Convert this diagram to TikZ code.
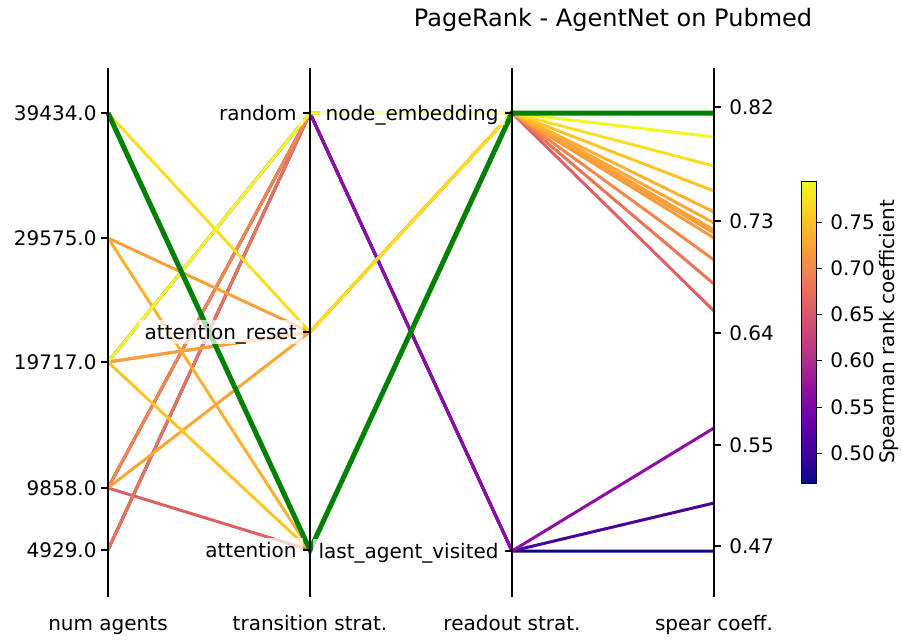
\documentclass[tikz,border=0pt]{standalone}
\usepackage{fontspec}
\setmainfont{DejaVu Sans}
\usepackage{tikz}

% plasma colour map
\definecolor{pl0}{HTML}{0D0887}
\definecolor{pl1}{HTML}{41049D}
\definecolor{pl2}{HTML}{6A00A8}
\definecolor{pl3}{HTML}{8F0DA4}
\definecolor{pl4}{HTML}{B12A90}
\definecolor{pl5}{HTML}{CC4778}
\definecolor{pl6}{HTML}{E16462}
\definecolor{pl7}{HTML}{F2844B}
\definecolor{pl8}{HTML}{FCA636}
\definecolor{pl9}{HTML}{FCCE25}
\definecolor{pl10}{HTML}{F0F921}
\pgfdeclareverticalshading{plasma}{100bp}{color(0bp)=(pl0); color(25bp)=(pl0);
  color(30bp)=(pl1); color(35bp)=(pl2); color(40bp)=(pl3); color(45bp)=(pl4);
  color(50bp)=(pl5); color(55bp)=(pl6); color(60bp)=(pl7); color(65bp)=(pl8);
  color(70bp)=(pl9); color(75bp)=(pl10); color(100bp)=(pl10)}

% line colours
\definecolor{cA}{HTML}{F0F921}
\definecolor{cB}{HTML}{F8DF25}
\definecolor{cC}{HTML}{FDC328}
\definecolor{cD}{HTML}{FDB130}
\definecolor{cE}{HTML}{FCA636}
\definecolor{cF}{HTML}{FBA03A}
\definecolor{cG}{HTML}{FA9E3B}
\definecolor{cH}{HTML}{F99A3E}
\definecolor{cI}{HTML}{F3874A}
\definecolor{cJ}{HTML}{E97456}
\definecolor{cK}{HTML}{DE6065}
\definecolor{cL}{HTML}{8F0DA4}
\definecolor{cM}{HTML}{48039F}
\definecolor{cN}{HTML}{0D0887}
\definecolor{best}{HTML}{008000}

\begin{document}
\begin{tikzpicture}[x=0.5pt,y=-0.5pt,
    every node/.style={font=\fontsize{10}{12}\selectfont},
    pline/.style={line width=1.5pt},
    bestline/.style={line width=2.5pt,best},
    axisline/.style={line width=0.75pt,black},
    ticklab/.style={inner sep=0pt},
    catlab/.style={fill=white,fill opacity=0.7,text opacity=1,inner xsep=3pt,inner ysep=2pt,
        text height=0.76em,text depth=0pt,anchor=east},
    axisname/.style={text height=0.76em,text depth=0pt}]
        \useasboundingbox (0,0) rectangle (902,639);

        % num agents
        \coordinate (na39434) at (108,113);
        \coordinate (na29575) at (108,238);
        \coordinate (na19717) at (108,362);
        \coordinate (na9858) at (108,488);
        \coordinate (na4929) at (108,550);
        % transition strat.
        \coordinate (trRandom) at (310,113);
        \coordinate (trReset) at (310,332);
        \coordinate (trAtt) at (310,550);
        % readout strat.
        \coordinate (roEmb) at (512,113);
        \coordinate (roLast) at (512,551);
        % spear coeff.
        \coordinate (sp1) at (714,113);
        \coordinate (sp2) at (714,137);
        \coordinate (sp3) at (714,166);
        \coordinate (sp4) at (714,191);
        \coordinate (sp5) at (714,212);
        \coordinate (sp6) at (714,223);
        \coordinate (sp7) at (714,230);
        \coordinate (sp8) at (714,233);
        \coordinate (sp9) at (714,238);
        \coordinate (sp10) at (714,260);
        \coordinate (sp11) at (714,284);
        \coordinate (sp12) at (714,311);
        \coordinate (sp13) at (714,428);
        \coordinate (sp14) at (714,503);
        \coordinate (sp15) at (714,551);

        % runs, worst first
        \draw[pline,cN] (na4929) -- (trRandom) -- (roLast) -- (sp15);
        \draw[pline,cM] (na9858) -- (trRandom) -- (roLast) -- (sp14);
        \draw[pline,cL] (na19717) -- (trRandom) -- (roLast) -- (sp13);
        \draw[pline,cK] (na9858) -- (trAtt) -- (roEmb) -- (sp12);
        \draw[pline,cJ] (na4929) -- (trRandom) -- (roEmb) -- (sp11);
        \draw[pline,cI] (na9858) -- (trRandom) -- (roEmb) -- (sp10);
        \draw[pline,cH] (na19717) -- (trReset) -- (roEmb) -- (sp9);
        \draw[pline,cG] (na19717) -- (trReset) -- (roEmb) -- (sp8);
        \draw[pline,cF] (na29575) -- (trReset) -- (roEmb) -- (sp7);
        \draw[pline,cE] (na9858) -- (trReset) -- (roEmb) -- (sp6);
        \draw[pline,cD] (na29575) -- (trAtt) -- (roEmb) -- (sp5);
        \draw[pline,cC] (na19717) -- (trAtt) -- (roEmb) -- (sp4);
        \draw[pline,cB] (na39434) -- (trReset) -- (roEmb) -- (sp3);
        \draw[pline,cA] (na19717) -- (trRandom) -- (roEmb) -- (sp2);
        % best run
        \draw[bestline] (na39434) -- (trAtt) -- (roEmb) -- (sp1);

        % axes
        \foreach \ax in {108,310,512,714}
            \draw[axisline] (\ax,68) -- (\ax,597);

        % left ticks
        \foreach \yy in {113,238,362,488,550}
            \draw[axisline] (101,\yy) -- (108,\yy);
        \node[ticklab,anchor=east] (lab39434) at (97,113) {39434.0};
        \node[ticklab,anchor=east] (lab29575) at (97,238) {29575.0};
        \node[ticklab,anchor=east] (lab19717) at (97,362) {19717.0};
        \node[ticklab,anchor=east] (lab9858) at (97,488) {9858.0};
        \node[ticklab,anchor=east] (lab4929) at (97,550) {4929.0};

        % category ticks
        \foreach \yy in {113,332,550}
            \draw[axisline] (303,\yy) -- (310,\yy);
        \foreach \yy in {113,551}
            \draw[axisline] (505,\yy) -- (512,\yy);
        \node[catlab] (labRandom) at (303,113) {random};
        \node[catlab] (labReset) at (303,332) {attention\_reset};
        \node[catlab] (labAtt) at (303,550) {attention};
        \node[catlab] (labEmb) at (505,113) {node\_embedding};
        \node[catlab] (labLast) at (505,551) {last\_agent\_visited};

        % right ticks
        \foreach \yy in {107,221,333,445,546}
            \draw[axisline] (714,\yy) -- (721,\yy);
        \node[ticklab,anchor=west] (lab082) at (729,107) {0.82};
        \node[ticklab,anchor=west] (lab073) at (729,221) {0.73};
        \node[ticklab,anchor=west] (lab064) at (729,333) {0.64};
        \node[ticklab,anchor=west] (lab055) at (729,445) {0.55};
        \node[ticklab,anchor=west] (lab047) at (729,546) {0.47};

        % axis names
        \node[axisname] (nameAgents) at (108,623) {num agents};
        \node[axisname] (nameTrans) at (310,623) {transition strat.};
        \node[axisname] (nameRead) at (512,623) {readout strat.};
        \node[axisname] (nameSpear) at (714,623) {spear coeff.};

        \node[font=\fontsize{12}{14}\selectfont] (title) at (613,20) {PageRank - AgentNet on Pubmed};

        % colour bar
        \shade[shading=plasma] (801,181) rectangle (816,483);
        \draw[line width=0.5pt] (801,181) rectangle (816,483);
        \foreach \yy/\vv in {222/0.75,268/0.70,314/0.65,360/0.60,407/0.55,453/0.50}{
            \draw[line width=0.5pt] (816,\yy) -- (822,\yy);
            \node[ticklab,anchor=west] at (830,\yy) {\vv};
        }
        \node[rotate=90] (barName) at (889,332) {Spearman rank coefficient};
    \end{tikzpicture}
\end{document}
